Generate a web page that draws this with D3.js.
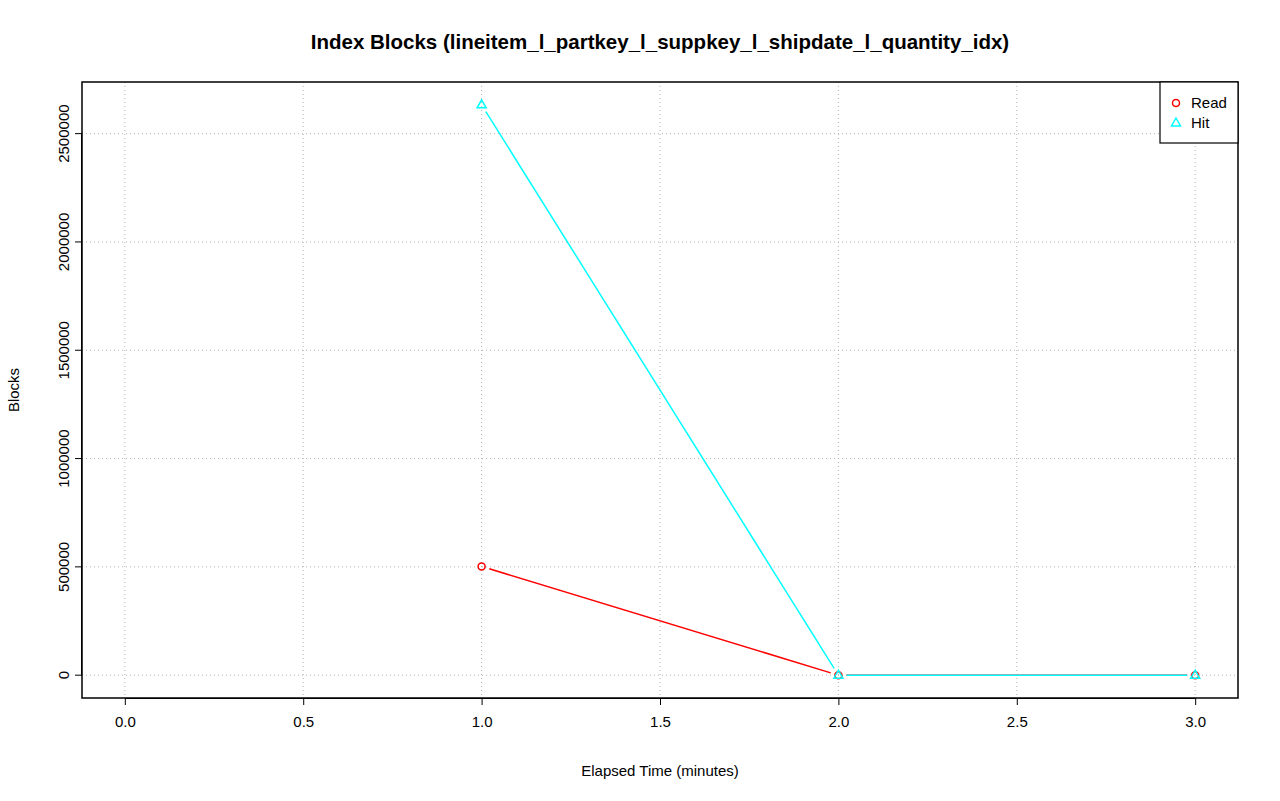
<!DOCTYPE html>
<html><head><meta charset="utf-8">
<script src="https://cdn.jsdelivr.net/npm/d3@7"></script>
<style>body{margin:0;background:#fff}text{font-family:"Liberation Sans",Arial,sans-serif}</style>
</head><body>
<svg id="c" width="1280" height="801"></svg>
<script>
const times = [1, 2, 3];
const readVals = [502000, 0, 0];
const hitVals = [2633000, 0, 0];
const xTicks = [0, 0.5, 1, 1.5, 2, 2.5, 3];
const yTicks = [0, 500000, 1000000, 1500000, 2000000, 2500000];
const seriesNames = ["Read", "Hit"];
const seriesColors = ["#ff0000", "#00ffff"];

const svg = d3.select("#c");
const L = 82, R = 1238, T = 82, B = 698;
const x = d3.scaleLinear().domain([-0.12, 3.12]).range([L, R]);
const y = d3.scaleLinear().domain([-105320, 2738320]).range([B, T]);

svg.selectAll(".gx").data(xTicks).enter().append("line")
  .attr("x1", d => x(d)).attr("x2", d => x(d)).attr("y1", T).attr("y2", B)
  .attr("stroke", "#b4b4b4").attr("stroke-dasharray", "1,3");
svg.selectAll(".gy").data(yTicks).enter().append("line")
  .attr("y1", d => y(d)).attr("y2", d => y(d)).attr("x1", L).attr("x2", R)
  .attr("stroke", "#b4b4b4").attr("stroke-dasharray", "1,3");

const xa = svg.append("g").attr("transform", `translate(0,${B})`)
  .call(d3.axisBottom(x).tickValues(xTicks).tickFormat(d3.format(".1f")).tickSize(7).tickSizeOuter(0));
xa.select(".domain").attr("d", `M${x(0)},0.5H${x(3)}`);
xa.selectAll("text").style("font-size", "15px").attr("dy", "1.25em").attr("fill", "#000");
const ya = svg.append("g").attr("transform", `translate(${L},0)`)
  .call(d3.axisLeft(y).tickValues(yTicks).tickFormat(d3.format("d")).tickSize(7).tickSizeOuter(0));
ya.select(".domain").attr("d", `M-0.5,${y(0)}V${y(2500000)}`);
ya.selectAll(".tick").attr("transform", null);
ya.selectAll(".tick line").attr("y1", d => y(d)).attr("y2", d => y(d));
ya.selectAll("text").style("font-size", "15px").attr("fill", "#000")
  .attr("x", 0).attr("y", 0).attr("dy", null).attr("text-anchor", "middle")
  .attr("transform", d => `translate(-13,${y(d)}) rotate(-90)`);

svg.append("rect").attr("x", L).attr("y", T).attr("width", R - L).attr("height", B - T)
  .attr("fill", "none").attr("stroke", "#000").attr("stroke-width", 1.5);

function drawSeries(vals, color, shape) {
  const pts = times.map((t, i) => [x(t), y(vals[i])]);
  for (let i = 0; i < pts.length - 1; i++) {
    const [x1, y1] = pts[i], [x2, y2] = pts[i + 1];
    const len = Math.hypot(x2 - x1, y2 - y1), g = 8;
    if (len <= 2 * g) continue;
    const ux = (x2 - x1) / len, uy = (y2 - y1) / len;
    svg.append("line").attr("x1", x1 + ux * g).attr("y1", y1 + uy * g)
      .attr("x2", x2 - ux * g).attr("y2", y2 - uy * g).attr("stroke", color).attr("stroke-width", 1.5);
  }
  pts.forEach(p => drawSym(p[0], p[1], color, shape));
}
function drawSym(cx, cy, color, shape) {
  if (shape === "circle") svg.append("circle").attr("cx", cx).attr("cy", cy).attr("r", 3.5)
    .attr("fill", "none").attr("stroke", color).attr("stroke-width", 1.5);
  else svg.append("path").attr("d", `M${cx},${cy - 5}L${cx + 4.5},${cy + 3}L${cx - 4.5},${cy + 3}Z`)
    .attr("fill", "none").attr("stroke", color).attr("stroke-width", 1.5);
}
drawSeries(readVals, seriesColors[0], "circle");
drawSeries(hitVals, seriesColors[1], "tri");

svg.append("rect").attr("x", 1160).attr("y", T).attr("width", R - 1160).attr("height", 61)
  .attr("fill", "#fff").attr("stroke", "#000").attr("stroke-width", 1.2);
seriesNames.forEach((n, i) => {
  const ly = 103 + i * 20;
  drawSym(1176, ly, seriesColors[i], i === 0 ? "circle" : "tri");
  svg.append("text").attr("x", 1191).attr("y", ly + 5).style("font-size", "15px").text(n);
});

svg.append("text").attr("x", 660).attr("y", 49).attr("text-anchor", "middle")
  .style("font-size", "20.5px").attr("font-weight", "bold")
  .text("Index Blocks (lineitem_l_partkey_l_suppkey_l_shipdate_l_quantity_idx)");
svg.append("text").attr("x", 660).attr("y", 776).attr("text-anchor", "middle")
  .style("font-size", "15px").text("Elapsed Time (minutes)");
svg.append("text").attr("transform", "translate(19,390) rotate(-90)").attr("text-anchor", "middle")
  .style("font-size", "15px").text("Blocks");
</script>
</body></html>
